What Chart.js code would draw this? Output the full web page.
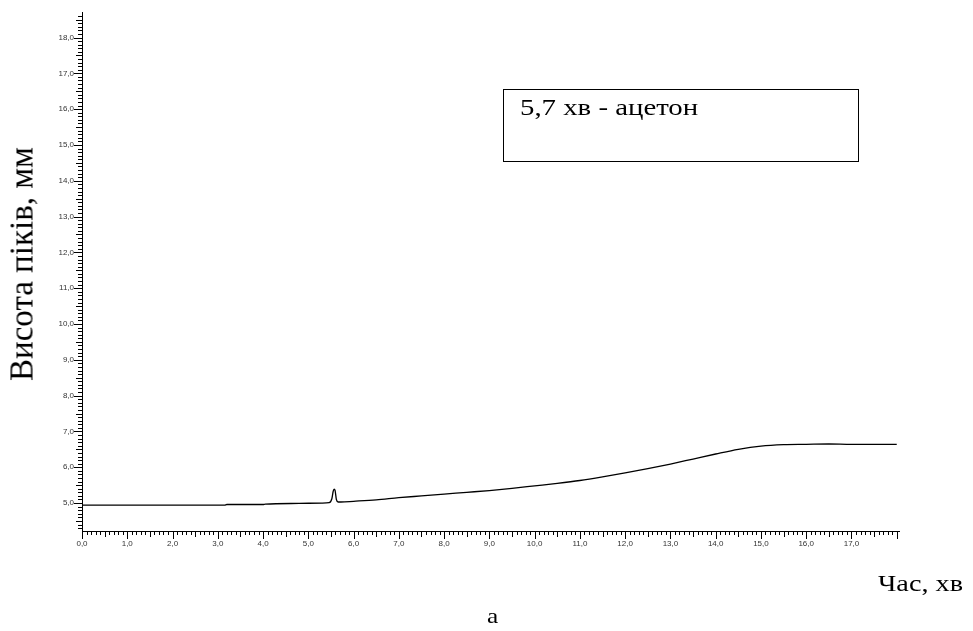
<!DOCTYPE html>
<html lang="uk">
<head>
<meta charset="utf-8">
<title>Хроматограма</title>
<script src="https://cdn.jsdelivr.net/npm/chart.js@4.4.1/dist/chart.umd.min.js"></script>
<style>
  html, body { margin: 0; padding: 0; background: #fff; }
  #wrap { position: relative; width: 973px; height: 631px; overflow: hidden; }
  #c { position: absolute; left: 0; top: 0; }
  .serif { position: absolute; font-family: "Liberation Serif", "Times New Roman", serif; color: #000; white-space: nowrap; line-height: 1; }
  #ytitle { left: 22px; top: 264px; font-size: 33px; transform: translate(-50%, -50%) rotate(-90deg); }
  #note { left: 503px; top: 89px; width: 354px; height: 71px; border: 1px solid #000; box-sizing: content-box; }
  #note span { position: absolute; left: 16px; top: 5px; font-size: 24px; transform: scaleX(1.2); transform-origin: 0 0; }
  #xtitle { left: 878px; top: 573px; font-size: 22.6px; transform: scaleX(1.25); transform-origin: 0 0; }
  #caption { left: 487px; top: 605px; font-size: 22px; transform: scaleX(1.15); transform-origin: 0 0; }
</style>
</head>
<body>
<div id="wrap">
  <canvas id="c" width="973" height="631"></canvas>
  <div id="ytitle" class="serif">Висота піків, мм</div>
  <div id="note" class="serif"><span>5,7 хв - ацетон</span></div>
  <div id="xtitle" class="serif">Час, хв</div>
  <div id="caption" class="serif">а</div>
</div>
<script>
// Retention time, min
const timeMin = [
  0, 1.0, 2.0, 3.0, 3.15, 3.2, 4.0, 4.05, 4.8, 5.3, 5.46,
  5.52, 5.55, 5.57, 5.59, 5.62, 5.66, 5.72, 6.0, 6.5, 7.0,
  7.5, 8.0, 8.5, 9.0, 9.5, 10.0, 10.5, 11.0, 11.5, 12.0,
  12.5, 13.0, 13.5, 14.0, 14.5, 15.0, 15.5, 16.0, 16.5, 17.0,
  17.5, 18.0
];
// Detector signal (peak height), mm
const signalMm = [
  4.94, 4.94, 4.94, 4.94, 4.94, 4.96, 4.96, 4.97, 4.99, 5.00, 5.01,
  5.12, 5.33, 5.39, 5.36, 5.10, 5.03, 5.03, 5.05, 5.09, 5.15,
  5.20, 5.25, 5.30, 5.35, 5.41, 5.48, 5.55, 5.63, 5.73, 5.84,
  5.96, 6.09, 6.23, 6.37, 6.50, 6.59, 6.63, 6.64, 6.65, 6.64,
  6.64, 6.64
];
const xTickValues = [0, 1, 2, 3, 4, 5, 6, 7, 8, 9, 10, 11, 12, 13, 14, 15, 16, 17];
const yTickValues = [5, 6, 7, 8, 9, 10, 11, 12, 13, 14, 15, 16, 17, 18];
const xRange = [0, 18.05];
const yRange = [4.22, 18.69];

const fmt = v => Number(v).toFixed(1).replace('.', ',');

// Major/half/minor tick marks along both axes (every 0.1)
const tickMarks = {
  id: 'tickMarks',
  afterDraw(chart) {
    const { ctx, chartArea, scales: { x, y } } = chart;
    ctx.save();
    ctx.strokeStyle = '#000';
    ctx.lineWidth = 1;
    ctx.beginPath();
    const lenFor = i => (i % 10 === 0 ? 8 : (i % 5 === 0 ? 6 : 4));
    for (let i = Math.ceil(x.min * 10); i <= Math.floor(x.max * 10 + 1e-6); i++) {
      const px = Math.round(x.getPixelForValue(i / 10)) + 0.5;
      ctx.moveTo(px, chartArea.bottom);
      ctx.lineTo(px, chartArea.bottom + lenFor(i));
    }
    for (let i = Math.ceil(y.min * 10); i <= Math.floor(y.max * 10 + 1e-6); i++) {
      const py = Math.round(y.getPixelForValue(i / 10)) + 0.5;
      ctx.moveTo(chartArea.left, py);
      ctx.lineTo(chartArea.left - lenFor(i), py);
    }
    ctx.stroke();
    ctx.restore();
  }
};

const tickFont = { family: '"Liberation Sans", Arial, sans-serif', size: 8 };

new Chart(document.getElementById('c'), {
  type: 'line',
  data: {
    datasets: [{
      data: timeMin.map((t, i) => ({ x: t, y: signalMm[i] })),
      borderColor: '#000',
      borderWidth: 1.3,
      pointRadius: 0,
      fill: false,
      cubicInterpolationMode: 'monotone'
    }]
  },
  options: {
    responsive: false,
    animation: false,
    devicePixelRatio: 1,
    layout: { padding: { left: 0, top: 8, right: 74, bottom: 0 } },
    plugins: { legend: { display: false }, tooltip: { enabled: false } },
    scales: {
      x: {
        type: 'linear',
        min: xRange[0],
        max: xRange[1],
        afterFit: s => { s.height = 100; },
        afterBuildTicks: s => { s.ticks = xTickValues.map(v => ({ value: v })); },
        grid: { display: false, drawTicks: false },
        border: { display: true, color: '#000', width: 1 },
        ticks: { font: tickFont, color: '#333', padding: 8, maxRotation: 0, autoSkip: false, callback: v => fmt(v) }
      },
      y: {
        type: 'linear',
        min: yRange[0],
        max: yRange[1],
        afterFit: s => { s.width = 82; },
        afterBuildTicks: s => { s.ticks = yTickValues.map(v => ({ value: v })); },
        grid: { display: false, drawTicks: false },
        border: { display: true, color: '#000', width: 1 },
        ticks: { font: tickFont, color: '#333', padding: 8, autoSkip: false, callback: v => fmt(v) }
      }
    }
  },
  plugins: [tickMarks]
});
</script>
</body>
</html>
